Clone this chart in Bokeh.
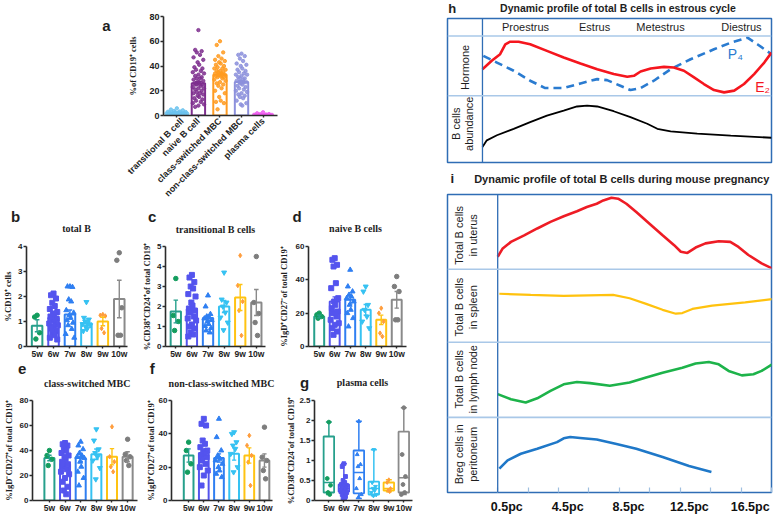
import math
from bokeh.plotting import figure
from bokeh.models import ColumnDataSource, Range1d, FixedTicker, Label, Span
from bokeh.layouts import row, column
from bokeh.embed import file_html
from bokeh.resources import INLINE

SANS = "Liberation Sans"
SERIF = "Liberation Serif"
INK = "#1e1e1e"

# ---------------- panel a data ----------------
a_categories = ["transitional B cell", "naive B cell", "class-switched MBC",
                "non-class-switched MBC", "plasma cells"]
a_means = [2.0, 26.0, 33.0, 27.0, 0.8]
a_sem = [0.3, 1.4, 1.1, 1.2, 0.1]
a_colors = ["#6cc3ef", "#7e2f8e", "#ff9b21", "#8c90dc", "#f05cf0"]
a_transitional = [5.8, 4.8, 4.2, 3.6, 3.2, 3.0, 2.8, 2.6, 2.4, 2.2, 2.0, 2.0, 1.8, 1.7,
                  1.5, 1.4, 1.2, 1.0, 0.9, 0.7, 0.5, 0.4, 0.3]
a_naive = [69, 53, 52, 51, 49, 47, 45, 43, 41, 39, 38, 37, 36, 35, 34, 33, 32, 31, 30, 30,
           29, 28, 27, 27, 26, 25, 25, 24, 23, 22, 22, 21, 20, 19, 18, 18, 17, 16, 15, 14,
           13, 12, 11, 10, 9, 8, 7]
a_class = [60, 57, 51, 48, 46, 45, 44, 43, 42, 41, 40, 39, 38, 38, 37, 36, 36, 35, 35, 34,
           34, 33, 33, 32, 32, 31, 31, 30, 29, 28, 27, 26, 25, 24, 22, 20, 18, 15, 12, 11,
           10, 5]
a_nonclass = [50, 49, 48, 46, 44, 42, 41, 40, 38, 37, 36, 35, 34, 33, 33, 32, 31, 30, 30,
              29, 28, 27, 26, 25, 24, 23, 22, 21, 20, 19, 18, 17, 16, 15, 14, 12, 10, 9, 8]
a_plasma = [2.6, 1.8, 1.2, 1.0, 0.8, 0.6, 0.5, 0.4, 0.3, 0.2, 0.1]

# ---------------- week panels data ----------------
weeks = ["5w", "6w", "7w", "8w", "9w", "10w"]
week_line = ["#26a08c", "#5454ee", "#2f7ff2", "#36c2f2", "#ffc312", "#8a8a8a"]
week_point = ["#139d5e", "#5454ee", "#2f7ff2", "#36c2f2", "#ff9d3c", "#7d7d7d"]
week_marker = ["circle", "square", "triangle", "inverted_triangle", "diamond", "circle"]

# b: total B
b_means = [0.83, 1.15, 1.28, 0.93, 1.00, 1.90]
b_sem = [0.24, 0.11, 0.18, 0.12, 0.17, 0.75]
b_5w = [1.25, 1.18, 0.55, 0.30]
b_6w = [2.12, 2.05, 1.92, 1.75, 1.62, 1.50, 1.38, 1.32, 1.25, 1.20, 1.12, 1.05, 0.98,
        0.92, 0.85, 0.80, 0.72, 0.62, 0.55, 0.45, 0.35, 0.28]
b_7w = [2.40, 2.40, 2.38, 1.88, 1.80, 1.45, 1.35, 1.25, 1.15, 1.05, 0.95, 0.85, 0.70,
        0.50, 0.35]
b_8w = [1.78, 1.15, 1.08, 1.00, 0.95, 0.90, 0.85, 0.78, 0.70, 0.62]
b_9w = [1.28, 1.25, 1.22, 0.72, 0.55]
b_10w = [3.75, 3.45, 1.55, 0.45, 0.45]

# c: transitional B cells
c_means = [1.75, 1.87, 1.43, 2.00, 2.45, 2.20]
c_sem = [0.57, 0.18, 0.12, 0.30, 0.65, 0.65]
c_5w = [3.40, 1.55, 1.25, 0.80]
c_6w = [3.58, 3.45, 3.22, 3.00, 2.90, 2.62, 2.50, 2.20, 2.05, 1.90, 1.80, 1.70, 1.50,
        1.40, 1.30, 1.10, 1.00, 0.90, 0.70, 0.60, 0.50]
c_7w = [2.55, 2.00, 1.62, 1.50, 1.45, 1.40, 1.32, 1.25, 1.12, 1.02, 0.92, 0.80, 0.70]
c_8w = [3.70, 2.35, 2.20, 2.00, 1.70, 1.45, 1.20, 0.82]
c_9w = [4.55, 3.05, 2.25, 1.80, 0.55]
c_10w = [4.50, 2.20, 1.65, 1.20, 0.55]

# d: naive B cells
d_means = [18.0, 27.0, 28.0, 22.0, 16.0, 28.0]
d_sem = [0.8, 2.8, 2.5, 3.2, 2.8, 5.0]
d_5w = [20.0, 19.0, 18.0, 17.0]
d_6w = [53, 52, 49, 48, 38, 35, 29, 27, 25, 23, 21, 20, 18, 16, 14, 13, 11, 9, 7]
d_7w = [46, 36, 33, 31, 30, 29, 27, 25, 22, 20, 17, 12]
d_8w = [36, 33, 25, 22, 18, 15, 11]
d_9w = [23, 20, 15, 8, 6]
d_10w = [42, 36, 33, 16, 16]

# e: class-switched MBC
e_means = [34.0, 29.0, 34.0, 37.0, 35.0, 35.0]
e_sem = [2.2, 2.8, 2.8, 4.2, 6.5, 4.0]
e_5w = [40, 36, 33, 28]
e_6w = [46, 45, 44, 42, 40, 38, 36, 35, 33, 31, 29, 27, 25, 23, 21, 18, 15, 11, 8, 5]
e_7w = [47, 44, 41, 38, 36, 35, 34, 31, 27, 23, 18, 12]
e_8w = [57, 48, 41, 38, 35, 32, 26, 17]
e_9w = [59, 35, 31, 27, 23]
e_10w = [49, 37, 35, 32, 28]

# f: non-class-switched MBC
f_means = [27.0, 28.5, 25.5, 28.0, 27.0, 24.0]
f_sem = [4.0, 2.5, 2.5, 3.8, 4.6, 4.0]
f_5w = [35, 30, 22, 17]
f_6w = [49, 46, 45, 36, 34, 32, 30, 29, 28, 27, 26, 24, 22, 20, 18, 15, 9]
f_7w = [49, 38, 30, 27, 25, 24, 22, 20, 18, 16, 14]
f_8w = [41, 40, 35, 33, 31, 28, 20, 17]
f_9w = [39, 33, 27, 23, 9]
f_10w = [44, 26, 24, 18, 13]

# g: plasma cells (box plots)
g_q1 = [0.20, 0.22, 0.18, 0.15, 0.25, 0.20]
g_med = [0.45, 0.30, 0.70, 0.30, 0.30, 0.57]
g_q3 = [1.60, 0.40, 1.25, 0.47, 0.45, 1.72]
g_lo = [0.15, 0.02, 0.05, 0.12, 0.22, 0.15]
g_hi = [1.96, 0.92, 1.98, 1.27, 0.52, 2.32]
g_5w = [1.96, 0.55, 0.38, 0.20, 0.15]
g_6w = [0.92, 0.85, 0.60, 0.50, 0.45, 0.40, 0.38, 0.35, 0.33, 0.30, 0.30, 0.28, 0.25,
        0.22, 0.20, 0.18, 0.15, 0.10, 0.05, 0.02]
g_7w = [1.98, 1.15, 0.90, 0.85, 0.55, 0.30, 0.15, 0.08]
g_8w = [1.27, 0.45, 0.35, 0.30, 0.25, 0.20, 0.15, 0.12]
g_9w = [0.52, 0.45, 0.30, 0.25, 0.22]
g_10w = [2.32, 1.15, 0.60, 0.40, 0.20, 0.15]

# ---------------- panel h data (estrous cycle, % of cycle / relative level) ----------------
stage_names = ["Proestrus", "Estrus", "Metestrus", "Diestrus"]
stage_x = [14.9, 38.8, 61.6, 89.6]
h_x_e2 = [0, 3.2, 6.1, 7.9, 9.6, 12.5, 16.5, 22.3, 28.1, 33.9, 39.7, 45.4, 50.1, 52.4,
          54.7, 58.2, 62.8, 66.2, 69.7, 73.2, 76.6, 80.1, 83.6, 87.1, 90.5, 94.0, 97.5, 100]
h_e2 = [64.8, 70.6, 75.2, 82.1, 83.9, 83.9, 82.1, 77.5, 72.9, 68.7, 64.8, 61.4, 59.5, 60.2,
        63.2, 65.3, 66.4, 66.0, 63.7, 59.1, 54.5, 50.3, 48.7, 49.9, 54.5, 61.4, 69.4, 76.3]
h_x_p4 = [0.3, 5.0, 10.8, 16.5, 21.7, 28.1, 33.9, 39.7, 43.1, 47.7, 51.2, 54.7, 59.3,
          65.1, 72.0, 80.1, 85.9, 91.7, 95.1, 100]
h_p4 = [74.0, 69.4, 63.7, 56.8, 51.7, 51.7, 54.9, 57.9, 57.2, 53.3, 50.3, 51.7, 56.8,
        64.8, 71.7, 78.6, 83.2, 86.7, 82.1, 75.2]
h_x_b = [0, 1.5, 5.0, 10.8, 16.5, 22.3, 28.1, 32.7, 36.2, 39.7, 45.4, 51.2, 57.0, 60.5,
         65.1, 74.3, 85.9, 100]
h_b = [10.8, 15.4, 18.9, 23.4, 28.0, 32.6, 36.1, 38.9, 39.5, 38.9, 35.6, 31.5, 26.9, 23.4,
       21.6, 20.0, 18.6, 17.2]

# ---------------- panel i data (days post coitum / relative level) ----------------
pc_ticks = [0.5, 4.5, 8.5, 12.5, 16.5]
pc_labels = ["0.5pc", "4.5pc", "8.5pc", "12.5pc", "16.5pc"]
pc_marks = [0.5, 2.5, 4.5, 6.5, 8.5, 10.5, 12.5, 14.5, 16.5, 18.5]
i_day_uterus = [0.50, 0.83, 1.37, 2.24, 3.10, 3.97, 4.84, 5.71, 6.36, 7.01, 7.44, 7.98,
                8.42, 8.96, 9.61, 10.48, 11.34, 12.10, 12.54, 12.97, 13.51, 14.16, 15.03,
                15.79, 16.33, 16.98, 17.85, 18.54]
i_uterus = [79.1, 81.9, 84.1, 86.3, 88.6, 90.8, 92.7, 94.4, 95.8, 96.9, 98.0, 98.9, 98.6,
            96.9, 94.1, 90.2, 86.3, 83.0, 80.8, 80.4, 82.2, 83.6, 84.3, 84.1, 82.4, 79.7,
            76.9, 75.2]
i_day_spleen = [0.61, 2.67, 4.84, 8.09, 9.17, 10.26, 11.34, 12.21, 12.64, 13.30, 14.60,
                16.77, 18.54]
i_spleen = [66.7, 66.3, 66.0, 66.3, 65.2, 63.3, 61.3, 60.0, 60.2, 61.6, 62.7, 63.8, 64.9]
i_day_lymph = [0.50, 1.37, 2.34, 3.10, 3.97, 4.84, 5.71, 6.57, 7.87, 9.17, 10.26, 11.34,
               12.64, 13.51, 14.38, 15.03, 15.68, 16.55, 17.31, 17.85, 18.54]
i_lymph = [33.0, 31.3, 30.2, 31.6, 34.1, 36.3, 37.1, 36.7, 35.8, 36.9, 38.6, 40.2, 41.9,
           43.3, 43.8, 43.0, 40.8, 39.3, 39.7, 40.8, 43.0]
i_day_breg = [0.61, 1.15, 2.02, 3.10, 4.40, 4.84, 5.27, 5.92, 7.01, 8.31, 9.61, 11.34,
              13.08, 14.55]
i_breg = [8.0, 10.8, 13.0, 14.7, 16.9, 18.2, 18.6, 18.3, 17.8, 16.3, 14.7, 11.9, 8.9, 6.9]

# ---------------- helpers ----------------
PATTERN = [0.0, -0.5, 0.5, -0.25, 0.25, -0.75, 0.75, -0.12, 0.12, -0.62, 0.62, -0.37,
           0.37, -0.87, 0.87]


def spread(center, n, half):
    return [center + PATTERN[k % len(PATTERN)] * half for k in range(n)]


def base(w, h, xr, yr, ml, mr, mt, mb, **kw):
    p = figure(width=w, height=h, x_range=Range1d(*xr), y_range=Range1d(*yr),
               output_backend="svg", toolbar_location=None, title=None,
               min_border_left=ml, min_border_right=mr, min_border_top=mt,
               min_border_bottom=mb, **kw)
    p.grid.visible = False
    p.outline_line_color = None
    p.background_fill_color = "white"
    p.border_fill_color = "white"
    return p


def add_text(p, x, y, text, size, font=SANS, style="normal", angle=0.0, color=INK,
             align="center"):
    p.add_layout(Label(x=x, y=y, text=text, text_font=font, text_font_size=size,
                       text_font_style=style, angle=angle, text_color=color,
                       text_align=align, text_baseline="middle"))


def header(w, h, items):
    # blank strip whose frame covers it entirely; coordinates = pixels from its top-left
    p = figure(width=w, height=h, x_range=Range1d(0, w), y_range=Range1d(0, h),
               x_axis_location=None, y_axis_location=None, output_backend="svg",
               toolbar_location=None, title=None, min_border=0)
    p.grid.visible = False
    p.outline_line_color = None
    p.border_fill_color = "white"
    for x, top, text, size, font, style in items:
        add_text(p, x, h - top, text, size, font=font, style=style)
    return p


def style_prism(p, yticks, xticks, xlabels, ylabel, ystand=1, yfs="8px", xfs="8.5px"):
    for ax in (p.xaxis[0], p.yaxis[0]):
        ax.axis_line_width = 1.6
        ax.axis_line_color = "#2b2b2b"
        ax.major_tick_line_color = "#2b2b2b"
        ax.major_tick_line_width = 1.4
        ax.major_tick_in = 0
        ax.minor_tick_line_color = None
        ax.major_label_text_font = SANS
        ax.major_label_text_font_style = "bold"
        ax.major_label_text_color = "#222222"
    ya = p.yaxis[0]
    ya.ticker = FixedTicker(ticks=yticks)
    ya.major_tick_out = 3
    ya.major_label_standoff = 1
    ya.major_label_text_font_size = yfs
    ya.axis_label = ylabel
    ya.axis_label_text_font = SERIF
    ya.axis_label_text_font_size = "8.5px"
    ya.axis_label_text_font_style = "bold"
    ya.axis_label_text_color = "#222222"
    ya.axis_label_standoff = ystand
    xa = p.xaxis[0]
    xa.ticker = FixedTicker(ticks=xticks)
    xa.major_label_overrides = {t: l for t, l in zip(xticks, xlabels)}
    xa.major_tick_out = 2
    xa.major_label_standoff = 0
    xa.major_label_text_font_size = xfs


def error_bars(p, xs, means, sems, colors, cap=0.14, lw=1.4):
    lo = [m - s for m, s in zip(means, sems)]
    hi = [m + s for m, s in zip(means, sems)]
    p.segment(x0=xs, y0=lo, x1=xs, y1=hi, line_color=colors, line_width=lw)
    p.segment(x0=[x - cap for x in xs], y0=hi, x1=[x + cap for x in xs], y1=hi,
              line_color=colors, line_width=lw)
    p.segment(x0=[x - cap for x in xs], y0=lo, x1=[x + cap for x in xs], y1=lo,
              line_color=colors, line_width=lw)


def bar_panel(w, h, xr, ymax, yticks, borders, means, sems, groups, ylabel, ystand=1):
    ml, mr, mt, mb = borders
    p = base(w, h, xr, (0, ymax), ml, mr, mt, mb)
    idx = list(range(len(weeks)))
    style_prism(p, yticks, idx, weeks, ylabel, ystand)
    src = ColumnDataSource(dict(x=idx, top=means, c=week_line))
    p.vbar(x="x", top="top", bottom=0, width=0.64, source=src, fill_color="white",
           line_color="c", line_width=2)
    for i, vals in enumerate(groups):
        p.scatter(spread(i, len(vals), 0.3), vals, marker=week_marker[i],
                  size=4.5 if week_marker[i] in ("circle", "diamond") else 5,
                  color=week_point[i])
    error_bars(p, idx, means, sems, week_line)
    return p


# ---------------- row 1: panel a ----------------
blank_a = header(125, 204, [(106, 18.3, "a", "15px", SANS, "bold")])
fa = base(307, 204, (-0.62, 4.67), (0, 80), 33, 155, 16, 82)
a_idx = list(range(len(a_categories)))
style_prism(fa, [0, 20, 40, 60, 80], a_idx, a_categories, "%of CD19\u207a cells",
            ystand=8, yfs="9px", xfs="9px")
fa.xaxis[0].major_label_orientation = math.pi / 4
fa.xaxis[0].major_label_standoff = 2
fa.vbar(x=a_idx, top=a_means, bottom=0, width=0.62, fill_color="white",
        line_color=a_colors, line_width=2)
for i, vals in enumerate([a_transitional, a_naive, a_class, a_nonclass, a_plasma]):
    half = 0.55 if i in (0, 4) else 0.3
    fa.scatter(spread(i, len(vals), half), vals, marker="circle", size=3.4,
               color=a_colors[i], alpha=0.85)
error_bars(fa, a_idx, a_means, a_sem, a_colors, cap=0.16)

# ---------------- row 2 ----------------
head2 = header(432, 32, [
    (15, 11.7, "b", "15px", SANS, "bold"),
    (76, 24, "total B", "10px", SERIF, "bold"),
    (151.7, 11.7, "c", "15px", SANS, "bold"),
    (215, 25, "transitional B cells", "10px", SERIF, "bold"),
    (296.7, 11.7, "d", "15px", SANS, "bold"),
    (355, 24.3, "naive B cells", "10px", SERIF, "bold"),
])
fb = bar_panel(138, 125, (-0.645, 5.5), 4, [0, 1, 2, 3, 4], (25, 11, 8, 12),
               b_means, b_sem, [b_5w, b_6w, b_7w, b_8w, b_9w, b_10w],
               "%CD19\u207a cells", ystand=2)
fc = bar_panel(137, 125, (-0.64, 5.57), 5, [0, 1, 2, 3, 4, 5], (27, 10, 10, 13),
               c_means, c_sem, [c_5w, c_6w, c_7w, c_8w, c_9w, c_10w],
               "%CD38\u207aCD24\u207aof total CD19\u207a", ystand=2)
fd = bar_panel(157, 125, (-0.69, 5.63), 60, [0, 20, 40, 60], (30, 26, 8, 14),
               d_means, d_sem, [d_5w, d_6w, d_7w, d_8w, d_9w, d_10w],
               "%IgD\u207aCD27\u207bof total CD19\u207a", ystand=4)

# ---------------- row 3 ----------------
head3 = header(432, 30, [
    (21.7, 7, "e", "15px", SANS, "bold"),
    (86.7, 22.3, "class-switched MBC", "10px", SERIF, "bold"),
    (151.7, 7, "f", "15px", SANS, "bold"),
    (221, 22.3, "non-class-switched MBC", "10px", SERIF, "bold"),
    (304, 20.7, "g", "15px", SANS, "bold"),
    (362, 20.7, "plasma cells", "10px", SERIF, "bold"),
])
fe = bar_panel(142, 125, (-1.08, 5.63), 80, [0, 20, 40, 60, 80], (31, 5, 9, 14),
               e_means, e_sem, [e_5w, e_6w, e_7w, e_8w, e_9w, e_10w],
               "%IgD\u207bCD27\u207aof total CD19\u207a", ystand=3)
ff = bar_panel(141, 125, (-1.13, 5.53), 60, [0, 20, 40, 60], (24, 11, 8, 16),
               f_means, f_sem, [f_5w, f_6w, f_7w, f_8w, f_9w, f_10w],
               "%IgD\u207aCD27\u207aof total CD19\u207a", ystand=0)

fg = base(149, 125, (-0.96, 5.58), (0, 2.5), 25, 20, 8, 16)
g_idx = list(range(len(weeks)))
style_prism(fg, [0, 0.5, 1.0, 1.5, 2.0, 2.5], g_idx, weeks,
            "%CD38\u207aCD24\u207bof total CD19\u207a", ystand=0)
fg.segment(x0=g_idx, y0=g_lo, x1=g_idx, y1=g_q1, line_color=week_line, line_width=1.5)
fg.segment(x0=g_idx, y0=g_q3, x1=g_idx, y1=g_hi, line_color=week_line, line_width=1.5)
fg.segment(x0=[x - 0.2 for x in g_idx], y0=g_hi, x1=[x + 0.2 for x in g_idx], y1=g_hi,
           line_color=week_line, line_width=1.5)
fg.segment(x0=[x - 0.2 for x in g_idx], y0=g_lo, x1=[x + 0.2 for x in g_idx], y1=g_lo,
           line_color=week_line, line_width=1.5)
fg.vbar(x=g_idx, bottom=g_q1, top=g_q3, width=0.7, fill_color="white",
        line_color=week_line, line_width=1.8)
fg.segment(x0=[x - 0.35 for x in g_idx], y0=g_med, x1=[x + 0.35 for x in g_idx], y1=g_med,
           line_color=week_line, line_width=1.6)
for i, vals in enumerate([g_5w, g_6w, g_7w, g_8w, g_9w, g_10w]):
    fg.scatter(spread(i, len(vals), 0.22), vals, marker=week_marker[i], size=3.8,
               color=week_point[i])

# ---------------- panel h ----------------
BOX = "#2f6db5"
SEP = "#a9c8e8"
head_h = header(344, 17, [
    (5, 7.5, "h", "13px", SANS, "bold"),
    (181, 7.5, "Dynamic profile of total B cells in estrous cycle", "10.5px", SANS,
     "bold"),
])
fh = base(344, 153, (-12.1, 100), (0, 100), 15, 5, 1, 8,
          x_axis_location=None, y_axis_location=None)
fh.outline_line_color = BOX
fh.outline_line_width = 1.5
fh.add_layout(Span(location=0, dimension="height", line_color=BOX, line_width=1.3))
for loc in (87.8, 46.4):
    fh.add_layout(Span(location=loc, dimension="width", line_color=SEP, line_width=1.6))
fh.line(h_x_b, h_b, line_color="black", line_width=1.8)
fh.line(h_x_p4, h_p4, line_color="#2a7bd0", line_width=2.6, line_dash="8 5")
fh.line(h_x_e2, h_e2, line_color="#f5161e", line_width=2.6)
for name, sx in zip(stage_names, stage_x):
    add_text(fh, sx, 93.8, name, "11px")
add_text(fh, 87.5, 75.2, "P\u2084", "14px", color="#2a7bd0")
add_text(fh, 96.9, 52.2, "E\u2082", "14px", color="#f5161e")
add_text(fh, -5.9, 66.0, "Hormone", "11px", angle=math.pi / 2)
add_text(fh, -9.0, 26.9, "B cells", "11px", angle=math.pi / 2)
add_text(fh, -4.6, 26.9, "abundance", "11px", angle=math.pi / 2)

# ---------------- panel i ----------------
head_i = header(344, 23, [
    (5, 8, "i", "13px", SANS, "bold"),
    (185, 8, "Dynamic profile of total B cells during mouse pregnancy", "11px", SANS,
     "bold"),
])
fi = base(344, 323, (-2.8, 18.5), (0, 100), 14, 3, 1, 22, y_axis_location=None)
fi.outline_line_color = BOX
fi.outline_line_width = 1.5
pc_label_pos = [t + 0.6 for t in pc_ticks]
xa = fi.xaxis[0]
xa.ticker = FixedTicker(ticks=pc_label_pos, minor_ticks=pc_marks)
xa.major_label_overrides = dict(zip(pc_label_pos, pc_labels))
xa.axis_line_color = None
xa.major_tick_line_color = None
xa.major_tick_in = 0
xa.major_tick_out = 0
xa.minor_tick_in = 5
xa.minor_tick_out = 0
xa.minor_tick_line_color = "#9fbfe0"
xa.minor_tick_line_width = 1.2
xa.major_label_standoff = 7
xa.major_label_text_font = SANS
xa.major_label_text_font_size = "12.5px"
xa.major_label_text_font_style = "bold"
xa.major_label_text_color = "#111111"
fi.add_layout(Span(location=0.5, dimension="height", line_color=BOX, line_width=1.3))
for loc in (74.9, 50.4, 25.2):
    fi.add_layout(Span(location=loc, dimension="width", line_color=SEP, line_width=1.6))
fi.line(i_day_uterus, i_uterus, line_color="#ee1c25", line_width=2.6)
fi.line(i_day_spleen, i_spleen, line_color="#ffc20e", line_width=2.2)
fi.line(i_day_lymph, i_lymph, line_color="#1db34a", line_width=2.6)
fi.line(i_day_breg, i_breg, line_color="#1f78c8", line_width=2.6)
row_labels = [("Total B cells", "in uterus", 86.3), ("Total B cells", "in spleen", 62.2),
              ("Total B cells", "in lymph node", 38.0), ("Breg cells in", "peritoneum", 12.8)]
for l1, l2, yy in row_labels:
    add_text(fi, -2.04, yy, l1, "11px", angle=math.pi / 2)
    add_text(fi, -1.13, yy, l2, "11px", angle=math.pi / 2)

left = column(row(blank_a, fa), head2, row(fb, fc, fd), head3, row(fe, ff, fg))
right = column(head_h, fh, head_i, fi)
page = row(left, right)
open("out.html", "w").write(file_html(page, INLINE))
